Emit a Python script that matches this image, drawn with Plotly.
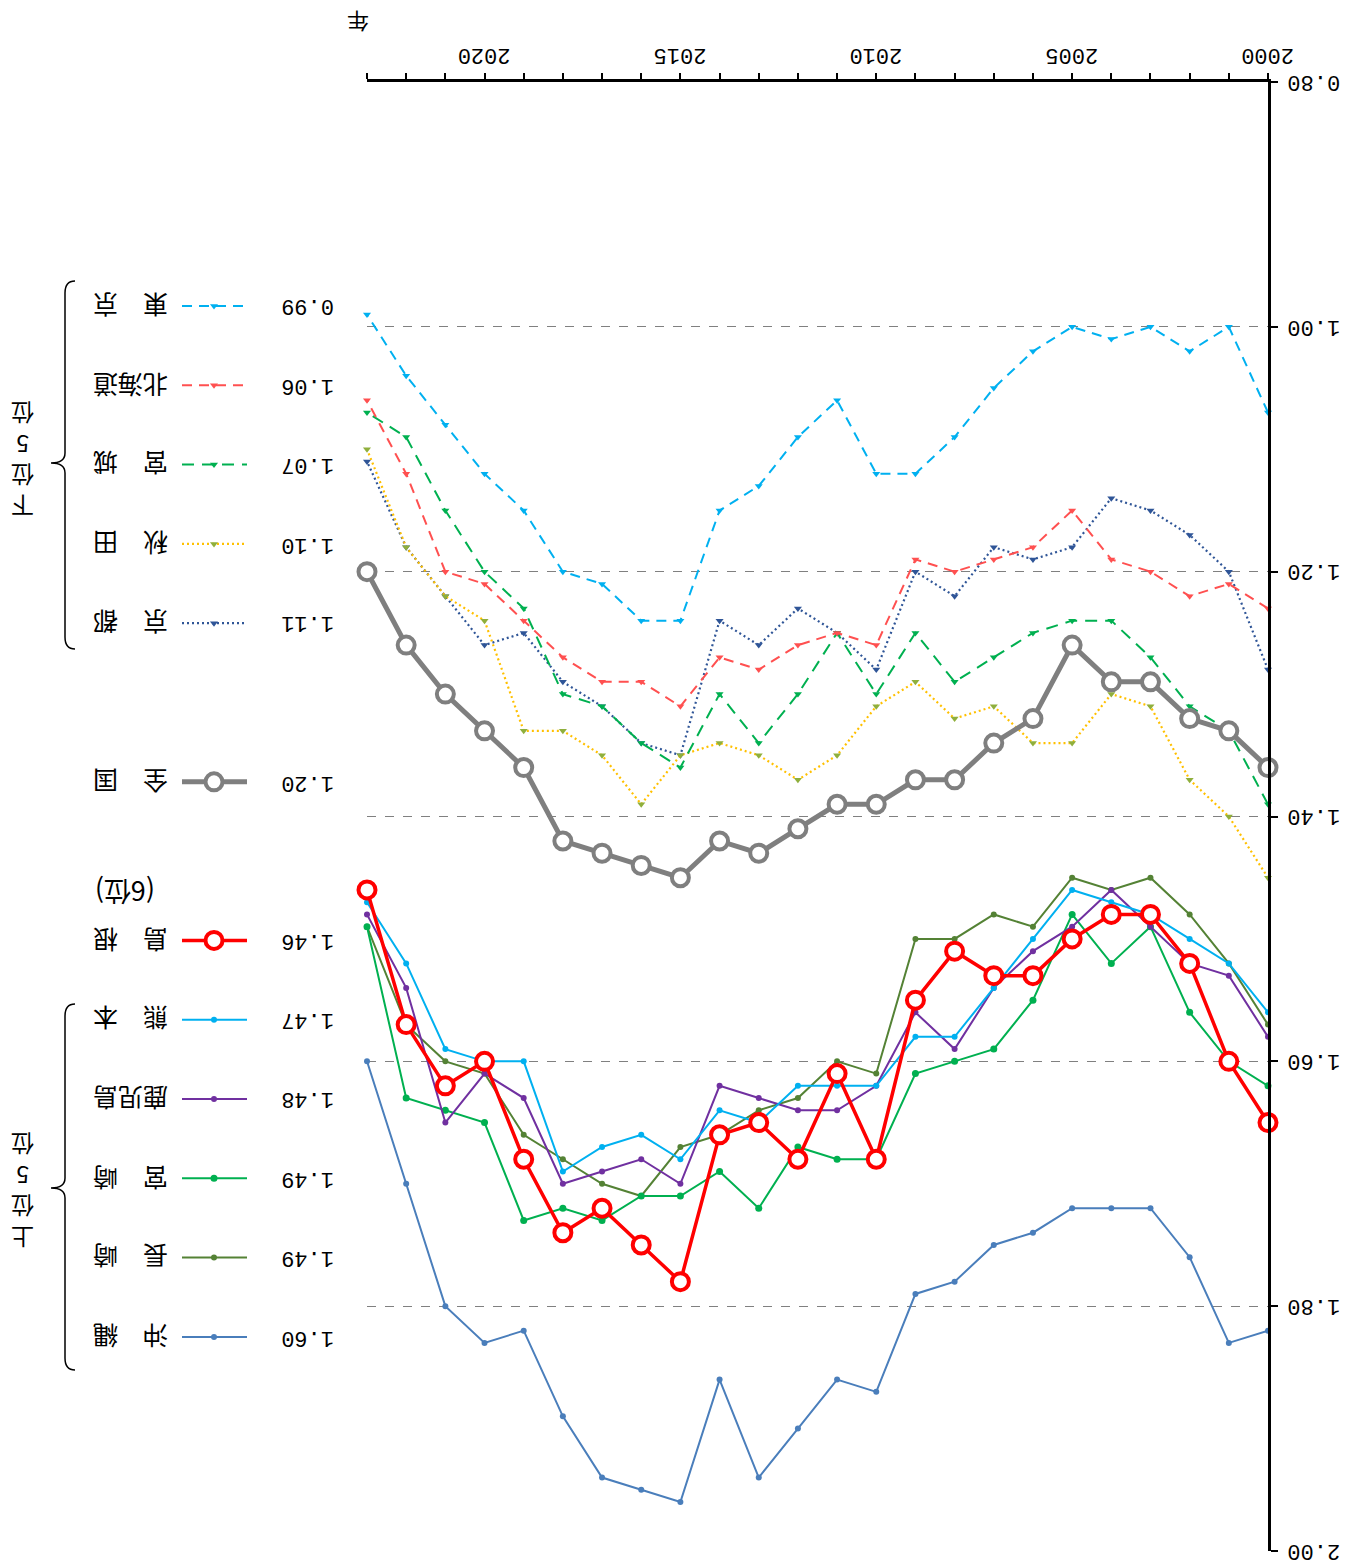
import plotly.graph_objects as go

years = list(range(2000, 2024))

national  = [1.36,1.33,1.32,1.29,1.29,1.26,1.32,1.34,1.37,1.37,1.39,1.39,1.41,1.43,1.42,1.45,1.44,1.43,1.42,1.36,1.33,1.30,1.26,1.20]
tokyo     = [1.07,1.00,1.02,1.00,1.01,1.00,1.02,1.05,1.09,1.12,1.12,1.06,1.09,1.13,1.15,1.24,1.24,1.21,1.20,1.15,1.12,1.08,1.04,0.99]
hokkaido  = [1.23,1.21,1.22,1.20,1.19,1.15,1.18,1.19,1.20,1.19,1.26,1.25,1.26,1.28,1.27,1.31,1.29,1.29,1.27,1.24,1.21,1.20,1.12,1.06]
miyagi    = [1.39,1.33,1.31,1.27,1.24,1.24,1.25,1.27,1.29,1.25,1.30,1.25,1.30,1.34,1.30,1.36,1.34,1.31,1.30,1.23,1.20,1.15,1.09,1.07]
akita     = [1.45,1.40,1.37,1.31,1.30,1.34,1.34,1.31,1.32,1.29,1.31,1.35,1.37,1.35,1.34,1.35,1.39,1.35,1.33,1.33,1.24,1.22,1.18,1.10]
kyoto     = [1.28,1.20,1.17,1.15,1.14,1.18,1.19,1.18,1.22,1.20,1.28,1.25,1.23,1.26,1.24,1.35,1.34,1.31,1.29,1.25,1.26,1.22,1.18,1.11]
shimane   = [1.65,1.60,1.52,1.48,1.48,1.50,1.53,1.53,1.51,1.55,1.68,1.61,1.68,1.65,1.66,1.78,1.75,1.72,1.74,1.68,1.60,1.62,1.57,1.46]
kumamoto  = [1.56,1.52,1.50,1.48,1.47,1.46,1.50,1.54,1.58,1.58,1.62,1.62,1.62,1.65,1.64,1.68,1.66,1.67,1.69,1.60,1.60,1.59,1.52,1.47]
kagoshima = [1.58,1.53,1.52,1.49,1.46,1.49,1.51,1.54,1.59,1.56,1.62,1.64,1.64,1.63,1.62,1.70,1.68,1.69,1.70,1.63,1.61,1.65,1.54,1.48]
miyazaki  = [1.62,1.60,1.56,1.49,1.52,1.48,1.55,1.59,1.60,1.61,1.68,1.68,1.67,1.72,1.69,1.71,1.71,1.73,1.72,1.73,1.65,1.64,1.63,1.49]
nagasaki  = [1.57,1.52,1.48,1.45,1.46,1.45,1.49,1.48,1.50,1.50,1.61,1.60,1.63,1.64,1.66,1.67,1.71,1.70,1.68,1.66,1.61,1.60,1.57,1.49]
okinawa   = [1.82,1.83,1.76,1.72,1.72,1.72,1.74,1.75,1.78,1.79,1.87,1.86,1.90,1.94,1.86,1.96,1.95,1.94,1.89,1.82,1.83,1.80,1.70,1.60]

names = ["東　京", "北海道", "宮　城", "秋　田", "京　都", "全　国",
         "島　根", "熊　本", "鹿児島", "宮　崎", "長　崎", "沖　縄"]
y_ticks = [0.80, 1.00, 1.20, 1.40, 1.60, 1.80, 2.00]
x_label_years = [2000, 2005, 2010, 2015, 2020]
rank_note = "(6位)"
group_low = "下位5位"
group_high = "上位5位"
x_title = "年"

series = [tokyo, hokkaido, miyagi, akita, kyoto, national,
          shimane, kumamoto, kagoshima, miyazaki, nagasaki, okinawa]

# styles: (line color, width, dash, marker symbol, marker size, marker color, marker line color, marker line width)
styles = [
    ("#00B0F0", 2, "10px,7px", "triangle-down", 7, "#00B0F0", "#00B0F0", 0),
    ("#FF5050", 2, "10px,7px", "triangle-down", 7, "#FF5050", "#FF5050", 0),
    ("#00B050", 2, "12px,8px", "triangle-down", 7, "#00B050", "#00B050", 0),
    ("#FFC000", 2.2, "2px,3px", "triangle-down", 7, "#8FAF3C", "#8FAF3C", 0),
    ("#2F5597", 2.2, "2px,3px", "triangle-down", 7, "#2F5597", "#2F5597", 0),
    ("#7F7F7F", 5, "solid", "circle", 17, "white", "#7F7F7F", 4),
    ("#FF0000", 3.5, "solid", "circle", 17, "white", "#FF0000", 4),
    ("#00B0F0", 2, "solid", "circle", 6, "#00B0F0", "#00B0F0", 0),
    ("#7030A0", 2, "solid", "circle", 6, "#7030A0", "#7030A0", 0),
    ("#00B050", 2, "solid", "circle", 7, "#00B050", "#00B050", 0),
    ("#548235", 2, "solid", "circle", 6, "#548235", "#548235", 0),
    ("#4A7EBB", 2, "solid", "circle", 6, "#4A7EBB", "#4A7EBB", 0),
]
legend_rows = [0, 1, 2, 3, 4, 6, 8, 9, 10, 11, 12, 13]
draw_order = [11, 10, 9, 8, 7, 4, 3, 2, 1, 0, 5, 6]

# page layout (screen pixels; the page body has an 8px margin)
W, H = 1349, 1566
OFF = 8
S_LEFT, S_RIGHT, S_TOP, S_BOTTOM = 367, 1268, 82, 1551
ML = 0
MR = W - (S_RIGHT - OFF)
MT = S_TOP - OFF
MB = H - (S_BOTTOM - OFF)
paper_w = W - ML - MR
paper_h = H - MT - MB
x_dom0 = (S_LEFT - OFF) / paper_w
LEG_RIGHT = S_LEFT - 6

fig = go.Figure()

for i in draw_order:
    lc, lw, dash, sym, ms, mc, mlc, mlw = styles[i]
    fig.add_trace(go.Scatter(
        x=years, y=series[i], mode="lines+markers", cliponaxis=False,
        line=dict(color=lc, width=lw, dash=dash),
        marker=dict(symbol=sym, size=ms, color=mc, line=dict(color=mlc, width=mlw)),
        xaxis="x", yaxis="y", showlegend=False, hoverinfo="skip"))

# legend (custom, upside-down layout), in screen coordinates via x2/y2
LEG_X0, LEG_X1, LEG_XM = 182, 247, 214
ROW0, ROWSTEP = 306, 79.3
NAME_X, VAL_X = 131, 308
font_txt = "Noto Sans CJK JP"
font_num = "Liberation Mono, Noto Sans CJK JP"
annotations = []
def ann(x, y, text, size, family, xref="x2", yref="y2", pad=1):
    return dict(x=x, y=y, xref=xref, yref=yref, text=text, showarrow=False,
                textangle=180, xanchor="center", yanchor="middle", borderpad=pad,
                font=dict(family=family, size=size, color="black"))

for i, r in enumerate(legend_rows):
    lc, lw, dash, sym, ms, mc, mlc, mlw = styles[i]
    yy = ROW0 + r * ROWSTEP
    fig.add_trace(go.Scatter(
        x=[LEG_X0, LEG_X1], y=[yy, yy], mode="lines",
        line=dict(color=lc, width=lw, dash=dash),
        xaxis="x2", yaxis="y2", showlegend=False, hoverinfo="skip"))
    fig.add_trace(go.Scatter(
        x=[LEG_XM], y=[yy], mode="markers", cliponaxis=False,
        marker=dict(symbol=sym, size=ms, color=mc, line=dict(color=mlc, width=mlw)),
        xaxis="x2", yaxis="y2", showlegend=False, hoverinfo="skip"))
    annotations.append(ann(NAME_X, yy, names[i], 25, font_txt))
    annotations.append(ann(VAL_X, yy, f"{series[i][-1]:.2f}", 22, font_num))

annotations.append(ann(125, 893, rank_note, 27, font_txt))

# vertical group labels: one character per annotation, stacked (upside-down view)
CH_STEP = 31
for label, mid in ((group_low, 461), (group_high, 1192)):
    n = len(label)
    for k, ch in enumerate(label):
        # first character ends up at the bottom in the rotated view
        yy = mid + (n - 1) / 2 * CH_STEP - k * CH_STEP
        annotations.append(ann(23, yy, ch, 23, font_txt, pad=0))

annotations.append(ann((358 - OFF - ML) / paper_w, (S_BOTTOM - 23) / (S_BOTTOM - S_TOP),
                       x_title, 22, font_txt, xref="paper", yref="paper", pad=0))

def brace(top, mid, bot, xo=75, xl=65, xp=51):
    return (f"M {xo} {top} Q {xl} {top} {xl} {top+12} L {xl} {mid-10} "
            f"Q {xl} {mid} {xp} {mid} Q {xl} {mid} {xl} {mid+10} "
            f"L {xl} {bot-12} Q {xl} {bot} {xo} {bot}")

shapes = [
    dict(type="path", path=brace(281, 463, 649), xref="x2", yref="y2",
         line=dict(color="black", width=1.5)),
    dict(type="path", path=brace(1004, 1188, 1370), xref="x2", yref="y2",
         line=dict(color="black", width=1.5)),
]

fig.update_layout(
    width=W, height=H,
    margin=dict(l=ML, r=MR, t=MT, b=MB),
    paper_bgcolor="white", plot_bgcolor="white",
    showlegend=False,
    xaxis=dict(domain=[x_dom0, 1], range=[2023, 2000],
               side="top", anchor="y",
               showline=True, linecolor="black", linewidth=2.5,
               ticks="outside", ticklen=6, tickwidth=2, tickcolor="black",
               tickvals=years,
               ticktext=[str(y) if y in x_label_years else "" for y in years],
               tickangle=180, ticklabelshift=-26, ticklabelstandoff=-7,
               showgrid=False, zeroline=False,
               tickfont=dict(family=font_num, size=22, color="black")),
    yaxis=dict(range=[2.0, 0.8], side="right", anchor="x",
               showline=True, linecolor="black", linewidth=2.5,
               ticks="outside", ticklen=7, tickwidth=2, tickcolor="black",
               tickvals=y_ticks, ticktext=[f"{v:.2f}" for v in y_ticks],
               tickangle=180, ticklabelstandoff=58, ticklabelshift=-8,
               showgrid=True, gridcolor="#808080", gridwidth=1, griddash="dash",
               zeroline=False,
               tickfont=dict(family=font_num, size=22, color="black")),
    xaxis2=dict(domain=[0, (LEG_RIGHT - OFF - ML) / paper_w],
                range=[OFF + ML, LEG_RIGHT], anchor="y2", visible=False),
    yaxis2=dict(domain=[0, 1], range=[S_BOTTOM, S_TOP], anchor="x2", visible=False),
    annotations=annotations,
    shapes=shapes,
)

fig.write_html("out.html")
